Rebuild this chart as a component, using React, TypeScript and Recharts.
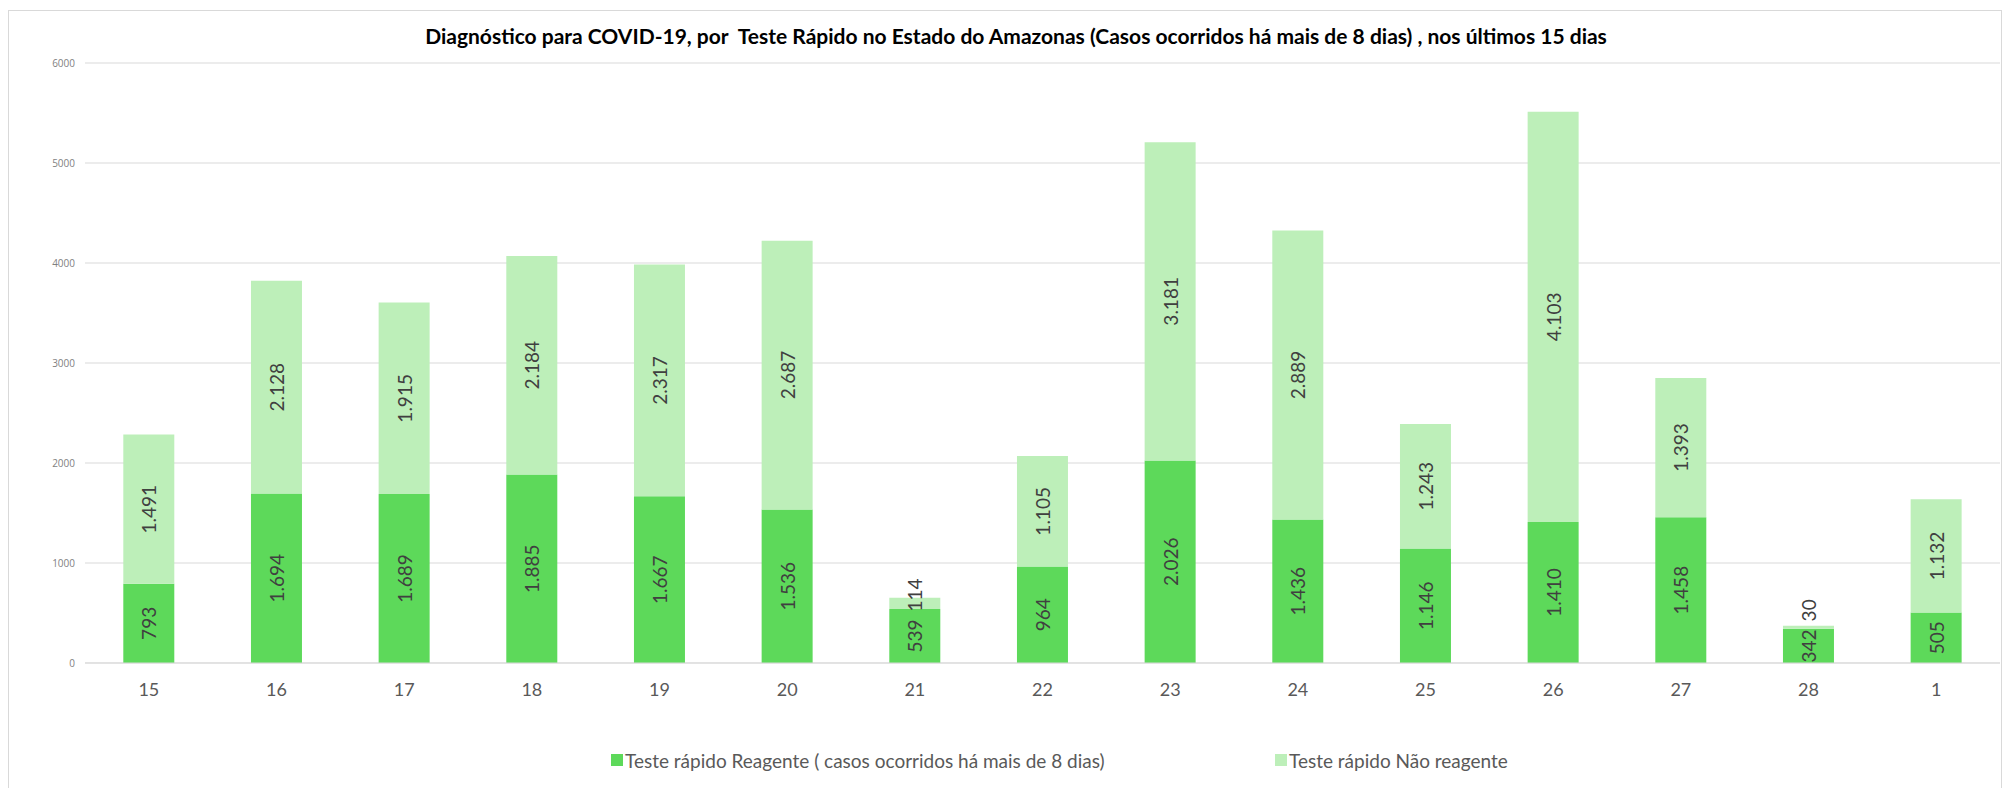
import React from "react";
import { BarChart, Bar, XAxis, YAxis, CartesianGrid, LabelList } from "recharts";

const dias = ["15", "16", "17", "18", "19", "20", "21", "22", "23", "24", "25", "26", "27", "28", "1"];
const reagente = [793, 1694, 1689, 1885, 1667, 1536, 539, 964, 2026, 1436, 1146, 1410, 1458, 342, 505];
const naoReagente = [1491, 2128, 1915, 2184, 2317, 2687, 114, 1105, 3181, 2889, 1243, 4103, 1393, 30, 1132];
const yTicks = [0, 1000, 2000, 3000, 4000, 5000, 6000];

const titulo =
  "Diagnóstico para COVID-19, por  Teste Rápido no Estado do Amazonas (Casos ocorridos há mais de 8 dias) , nos últimos 15 dias";
const nomeReagente = "Teste rápido Reagente ( casos ocorridos há mais de 8 dias)";
const nomeNao = "Teste rápido Não reagente";

const VERDE = "#5dd95a";
const VERDE_CLARO = "#bdefb9";
const LABEL_FS = 19;

const data = dias.map((d, i) => ({ dia: d, reagente: reagente[i], nao: naoReagente[i] }));

// 1.491 style thousands separator
const fmt = (v: number) => String(v).replace(/\B(?=(\d{3})+(?!\d))/g, ".");

// rough text length for the rotated labels
const textLen = (s: string) => {
  let w = 0;
  for (const c of s) w += c === "." ? 0.26 : 0.58;
  return w * LABEL_FS;
};

const RotLabel = (props: any) => {
  const { x, y, width, height, value } = props;
  const cx = Number(x) + Number(width) / 2;
  const cy = Number(y) + Number(height) / 2;
  return (
    <text
      x={cx}
      y={cy}
      transform={`rotate(-90, ${cx}, ${cy})`}
      textAnchor="middle"
      dominantBaseline="central"
      fontFamily="Lato, sans-serif"
      fontSize={LABEL_FS}
      fill="#404040"
    >
      {fmt(Number(value))}
    </text>
  );
};

// upper label gets pushed up when it would overlap the lower one (like Excel does)
const TopLabel = (props: any) => {
  const { x, y, width, height, value, index } = props;
  const v = Number(value);
  const h = Number(height);
  const cx = Number(x) + Number(width) / 2;
  let cy = Number(y) + h / 2;
  if (index != null && v > 0) {
    const ppu = h / v;
    const baixo = reagente[index];
    const bottomCenter = Number(y) + h + (baixo * ppu) / 2;
    const bottomTop = bottomCenter - textLen(fmt(baixo)) / 2;
    cy = Math.min(cy, bottomTop - 8 - textLen(fmt(v)) / 2);
  }
  return (
    <text
      x={cx}
      y={cy}
      transform={`rotate(-90, ${cx}, ${cy})`}
      textAnchor="middle"
      dominantBaseline="central"
      fontFamily="Lato, sans-serif"
      fontSize={LABEL_FS}
      fill="#404040"
    >
      {fmt(v)}
    </text>
  );
};

export default function App() {
  return (
    <div
      style={{
        position: "relative",
        width: 1992,
        height: 790,
        marginTop: 2,
        border: "1px solid #d9d9d9",
        background: "#fff",
      }}
    >
      <div
        style={{
          position: "absolute",
          left: 407,
          top: 13,
          width: 1200,
          textAlign: "center",
          lineHeight: "24px",
          fontFamily: "Lato, sans-serif",
          fontWeight: 700,
          fontSize: 21,
          color: "#000",
          whiteSpace: "pre",
        }}
      >
        {titulo}
      </div>

      <BarChart
        width={1992}
        height={790}
        data={data}
        margin={{ top: 52, right: 1, left: 0, bottom: 98 }}
        barCategoryGap="30%"
      >
        <CartesianGrid vertical={false} stroke="#d9d9d9" />
        <XAxis
          dataKey="dia"
          height={40}
          tickLine={false}
          axisLine={{ stroke: "#d9d9d9" }}
          tickMargin={14}
          tick={{ fontFamily: "Lato, sans-serif", fontSize: 18, fill: "#595959" }}
        />
        <YAxis
          width={76}
          domain={[0, 6000]}
          ticks={yTicks}
          axisLine={false}
          tickLine={false}
          tickMargin={4}
          tick={{ fontFamily: "Open Sans, sans-serif", fontSize: 10, fill: "#7f7f7f" }}
        />
        <Bar dataKey="reagente" stackId="a" fill={VERDE} isAnimationActive={false}>
          <LabelList dataKey="reagente" content={RotLabel} />
        </Bar>
        <Bar dataKey="nao" stackId="a" fill={VERDE_CLARO} isAnimationActive={false}>
          <LabelList dataKey="nao" content={TopLabel} />
        </Bar>
      </BarChart>

      {[
        { nome: nomeReagente, cor: VERDE, left: 602 },
        { nome: nomeNao, cor: VERDE_CLARO, left: 1266 },
      ].map((it) => (
        <div
          key={it.nome}
          style={{
            position: "absolute",
            left: it.left,
            top: 737,
            height: 24,
            display: "flex",
            alignItems: "center",
            fontFamily: "Lato, sans-serif",
            fontSize: 19,
            color: "#595959",
            whiteSpace: "nowrap",
          }}
        >
          <span style={{ width: 12, height: 12, background: it.cor, marginRight: 2, display: "inline-block" }} />
          {it.nome}
        </div>
      ))}
    </div>
  );
}
